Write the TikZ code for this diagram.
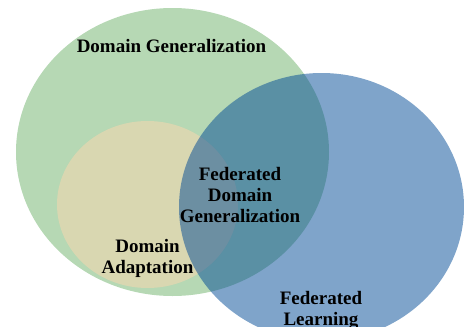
\documentclass[tikz,border=0pt]{standalone}
\usepackage{fontspec}
\setmainfont{Liberation Serif}
\definecolor{dggreen}{RGB}{182,216,180}
\definecolor{dayellow}{RGB}{217,215,177}
\definecolor{flblue}{RGB}{0,73,149}
\begin{document}
\begin{tikzpicture}[x=1pt,y=-1pt,
  lbl/.style={align=center,font=\fontsize{19}{21}\selectfont\bfseries,text=black,inner sep=0pt}]
\useasboundingbox (0,0) rectangle (464,327);
\clip (0,0) rectangle (464,327);
\fill[dggreen] (172.5,152) ellipse [x radius=156.5, y radius=144];
\fill[dayellow] (147.5,204.5) ellipse [x radius=90.5, y radius=83.5];
\fill[flblue,fill opacity=0.5] (321.5,207) ellipse [x radius=142.5, y radius=134];
\node[lbl] (dg) at (171.5,46) {Domain Generalization};
\node[lbl] (fdg) at (240,194.5) {Federated\\Domain\\Generalization};
\node[lbl] (da) at (147.5,258.5) {Domain\\Adaptation};
\node[lbl] (fl) at (321,310.5) {Federated\\Learning};
\end{tikzpicture}
\end{document}
